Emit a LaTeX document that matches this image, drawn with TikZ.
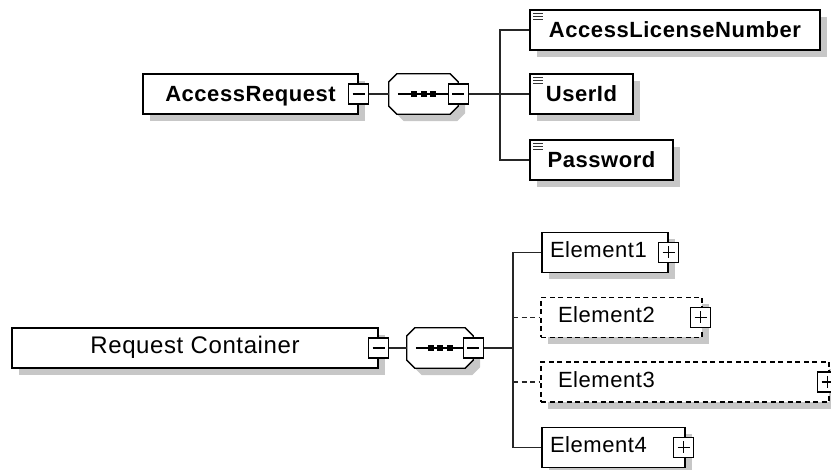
\documentclass[tikz,border=0pt]{standalone}
\usepackage{fontspec}
\setmainfont{Liberation Sans}
\newfontfamily\xsdfont[LetterSpace=2.5]{Liberation Sans}
\tikzset{
    boxshadow/.style={preaction={draw=none, fill=black!22, transform canvas={shift={(7pt,-7pt)}}}},
    xsdbox/.style={draw, line width=1.3pt, fill=white, boxshadow, inner sep=0pt, minimum height=40pt},
    % top schema
    leaf/.style={xsdbox, font=\xsdfont\bfseries\fontsize{22}{26}\selectfont, text height=16pt, text depth=0pt,
        path picture={\foreach \k in {3.5,6.5,9.5} \draw[line width=1.6pt, black!80] ([xshift=3pt,yshift=-\k pt]path picture bounding box.north west) -- ++(10pt,0pt);}},
    root/.style={xsdbox, font=\xsdfont\bfseries\fontsize{22}{26}\selectfont, text height=16pt, text depth=0pt},
    % bottom schema
    container/.style={xsdbox, font=\xsdfont\fontsize{24}{28}\selectfont, text height=17pt, text depth=5pt},
    elem/.style={xsdbox, font=\xsdfont\fontsize{22}{26}\selectfont, text height=16pt, text depth=5pt, align=left},
    optelem/.style={elem, dash pattern=on 5pt off 3.5pt},
    % sequence compositor
    seqbox/.style={inner sep=0pt, minimum height=40pt},
    seqline/.style={line width=1.3pt, fill=white, boxshadow},
    % expand / collapse buttons
    collapse/.style={draw, line width=1.2pt, fill=white, minimum size=20pt, inner sep=0pt,
        path picture={\draw[line width=1.2pt] ([xshift=4pt]path picture bounding box.west) -- ([xshift=-4pt]path picture bounding box.east);}},
    expand/.style={draw, line width=1.2pt, fill=white, minimum size=20pt, inner sep=0pt,
        path picture={\draw[line width=1.2pt] ([xshift=4pt]path picture bounding box.west) -- ([xshift=-4pt]path picture bounding box.east);
            \draw[line width=1.2pt] ([yshift=-4pt]path picture bounding box.north) -- ([yshift=4pt]path picture bounding box.south);}},
    link/.style={line width=1.5pt, black!85},
    optlink/.style={link, dash pattern=on 5pt off 3.5pt}
}
\begin{document}
\begin{tikzpicture}[x=1pt, y=-1pt]
\useasboundingbox (0,0) rectangle (831,470);

% AccessRequest
\node[root, minimum width=215pt] (areq) at (250.5,94) {AccessRequest};
\node[seqbox, minimum width=69pt] (seq1) at (423.5,94) {};
\node[leaf, minimum width=290pt] (aln) at (675,30) {AccessLicenseNumber};
\node[leaf, minimum width=103pt] (uid) at (581.5,94) {UserId};
\node[leaf, minimum width=143pt] (pwd) at (601.5,160) {Password};

% Request Container
\node[container, minimum width=366pt] (rc) at (195,348) {Request Container};
\node[seqbox, minimum width=66pt] (seq2) at (440,348) {};
\node[elem, inner xsep=8pt, text width=110pt] (el1) at (605,252.5) {Element1};
\node[optelem, inner xsep=17pt, text width=127pt] (el2) at (621.5,317.5) {Element2};
\node[optelem, inner xsep=17pt, text width=254pt] (el3) at (685,382) {Element3};
\node[elem, inner xsep=8pt, text width=127pt] (el4) at (613.5,447.5) {Element4};

% Sequence octagons
\foreach \s in {seq1,seq2} {
    \draw[seqline] ([xshift=8pt]\s.north west) -- ([xshift=-8pt]\s.north east) -- ([yshift=-8pt]\s.north east)
        -- ([yshift=8pt]\s.south east) -- ([xshift=-8pt]\s.south east) -- ([xshift=8pt]\s.south west)
        -- ([yshift=8pt]\s.south west) -- ([yshift=-8pt]\s.north west) -- cycle;
    \draw[line width=1.3pt] ([xshift=9pt]\s.west) -- ([xshift=-9pt]\s.east);
    \foreach \d in {-9.5,0,9.5}
        \fill ([xshift=\d pt]\s.center) +(-3pt,-3pt) rectangle +(3pt,3pt);
}

% Buttons
\node[collapse] (areqm) at (areq.east) {};
\node[collapse] (seq1m) at (seq1.east) {};
\node[collapse] (rcm) at (rc.east) {};
\node[collapse] (seq2m) at (seq2.east) {};
\node[expand] (el1p) at (el1.east) {};
\node[expand] (el2p) at ([xshift=-2pt]el2.east) {};
\node[expand] (el3p) at ([xshift=-2pt]el3.east) {};
\node[expand] (el4p) at ([xshift=-2pt]el4.east) {};
\coordinate (bar1) at (500,94);
\coordinate (bar2) at (513,348);

% Connectors
\draw[link] (areqm) -- (seq1);
\draw[link] (seq1m) -- (uid);
\draw[link] (aln.west) -| (bar1) |- (pwd.west);
\draw[link] (rcm) -- (seq2);
\draw[link] (seq2m) -- (bar2);
\draw[link] (el1.west) -| (bar2) |- (el4.west);
\draw[optlink] (bar2 |- el2.west) -- (el2.west);
\draw[optlink] (bar2 |- el3.west) -- (el3.west);
\end{tikzpicture}
\end{document}
